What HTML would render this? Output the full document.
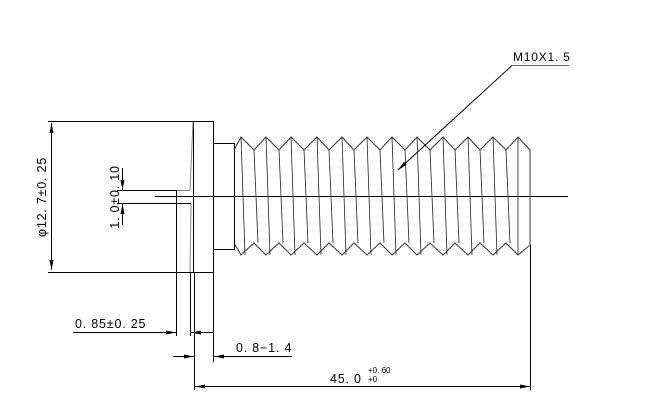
<!DOCTYPE html>
<html><head><style>
html,body{margin:0;padding:0;background:#fff;}
svg{display:block;}
text{font-family:"Liberation Sans",sans-serif;fill:#000;letter-spacing:0.8px;}
</style></head><body>
<svg width="657" height="419" viewBox="0 0 657 419" xmlns="http://www.w3.org/2000/svg">
<defs>
<marker id="a" viewBox="0 0 10 6" refX="10" refY="3" markerWidth="10" markerHeight="6" orient="auto-start-reverse" markerUnits="userSpaceOnUse"><path d="M0,1 L10,3 L0,5z" fill="#000"/></marker>
</defs>
<g stroke="#000" stroke-width="1" fill="none">
<rect x="193.5" y="121.5" width="20" height="151"/>
<line x1="48" y1="121.5" x2="193" y2="121.5"/>
<line x1="48" y1="272.5" x2="193" y2="272.5"/>
<line x1="51.5" y1="123" x2="51.5" y2="270" marker-start="url(#a)" marker-end="url(#a)"/>
<line x1="213" y1="143.5" x2="234" y2="143.5"/>
<line x1="213" y1="249.5" x2="234" y2="249.5"/>
<line x1="234.5" y1="143" x2="234.5" y2="250"/>
<polyline points="234,150 241,137 254,150 266,137 279,150 291,137 304,150 317,137 329,150 342,137 354,150 367,137 380,150 392,137 405,150 417,137 430,150 443,137 455,150 468,137 480,150 493,137 506,150 518,137 530,150 530,245 518,255 506,243 493,255 480,243 468,255 455,243 443,255 430,243 417,255 405,243 392,255 380,243 367,255 354,243 342,255 329,243 317,255 304,243 291,255 279,243 266,255 254,243 241,255 234,243" stroke="#333"/>
<g stroke-width="0.8" stroke="#222">
<line x1="241" y1="137" x2="245" y2="255"/><line x1="254" y1="150" x2="258" y2="243"/>
<line x1="266" y1="137" x2="270" y2="255"/><line x1="279" y1="150" x2="283" y2="243"/>
<line x1="291" y1="137" x2="295" y2="255"/><line x1="304" y1="150" x2="308" y2="243"/>
<line x1="317" y1="137" x2="321" y2="255"/><line x1="329" y1="150" x2="333" y2="243"/>
<line x1="342" y1="137" x2="346" y2="255"/><line x1="354" y1="150" x2="358" y2="243"/>
<line x1="367" y1="137" x2="371" y2="255"/><line x1="380" y1="150" x2="384" y2="243"/>
<line x1="392" y1="137" x2="396" y2="255"/><line x1="405" y1="150" x2="409" y2="243"/>
<line x1="417" y1="137" x2="421" y2="255"/><line x1="430" y1="150" x2="434" y2="243"/>
<line x1="443" y1="137" x2="447" y2="255"/><line x1="455" y1="150" x2="459" y2="243"/>
<line x1="468" y1="137" x2="472" y2="255"/><line x1="480" y1="150" x2="484" y2="243"/>
<line x1="493" y1="137" x2="497" y2="255"/><line x1="506" y1="150" x2="510" y2="243"/>
<line x1="518" y1="137" x2="518" y2="255"/>
</g>
<line x1="155" y1="196.5" x2="568" y2="196.5"/>
<line x1="117" y1="190.5" x2="177" y2="190.5"/>
<line x1="177" y1="190.5" x2="190" y2="190.5" stroke="#888"/>
<line x1="190" y1="190" x2="193" y2="122" stroke="#888"/>
<line x1="117" y1="203.5" x2="191" y2="203.5"/>
<line x1="191" y1="204" x2="190" y2="272" stroke="#888"/>
<line x1="122.5" y1="168" x2="122.5" y2="190" marker-end="url(#a)"/>
<line x1="122.5" y1="225" x2="122.5" y2="204" marker-end="url(#a)"/>
<line x1="176.5" y1="190" x2="176.5" y2="336"/>
<line x1="190.5" y1="272" x2="190.5" y2="336"/>
<line x1="194.5" y1="272" x2="194.5" y2="390"/>
<line x1="213.5" y1="272" x2="213.5" y2="362"/>
<line x1="530.5" y1="245" x2="530.5" y2="390"/>
<line x1="73" y1="332.5" x2="176" y2="332.5" marker-end="url(#a)"/>
<line x1="213" y1="332.5" x2="191" y2="332.5" marker-end="url(#a)"/>
<line x1="173" y1="356.5" x2="194" y2="356.5" marker-end="url(#a)"/>
<line x1="292" y1="356.5" x2="214" y2="356.5" marker-end="url(#a)"/>
<line x1="195" y1="386.5" x2="530" y2="386.5" marker-start="url(#a)" marker-end="url(#a)"/>
<line x1="512" y1="65.5" x2="569" y2="65.5" stroke="#666"/>
<line x1="512" y1="65.5" x2="398" y2="170" marker-end="url(#a)"/>
</g>
<text x="513" y="61" font-size="12">M10X1. 5</text>
<text x="75" y="328" font-size="12.5">0. 85±0. 25</text>
<text x="236" y="352" font-size="12.5">0. 8−1. 4</text>
<text x="330" y="383" font-size="12.5">45. 0</text>
<text x="368" y="373" font-size="8" style="letter-spacing:0">+0. 60</text>
<text x="368" y="382" font-size="8" style="letter-spacing:0">+0</text>
<text transform="translate(46,197) rotate(-90)" text-anchor="middle" font-size="12.5">φ12. 7±0. 25</text>
<text transform="translate(119,197) rotate(-90)" text-anchor="middle" font-size="12.5">1. 0±0. 10</text>
</svg>
</body></html>
